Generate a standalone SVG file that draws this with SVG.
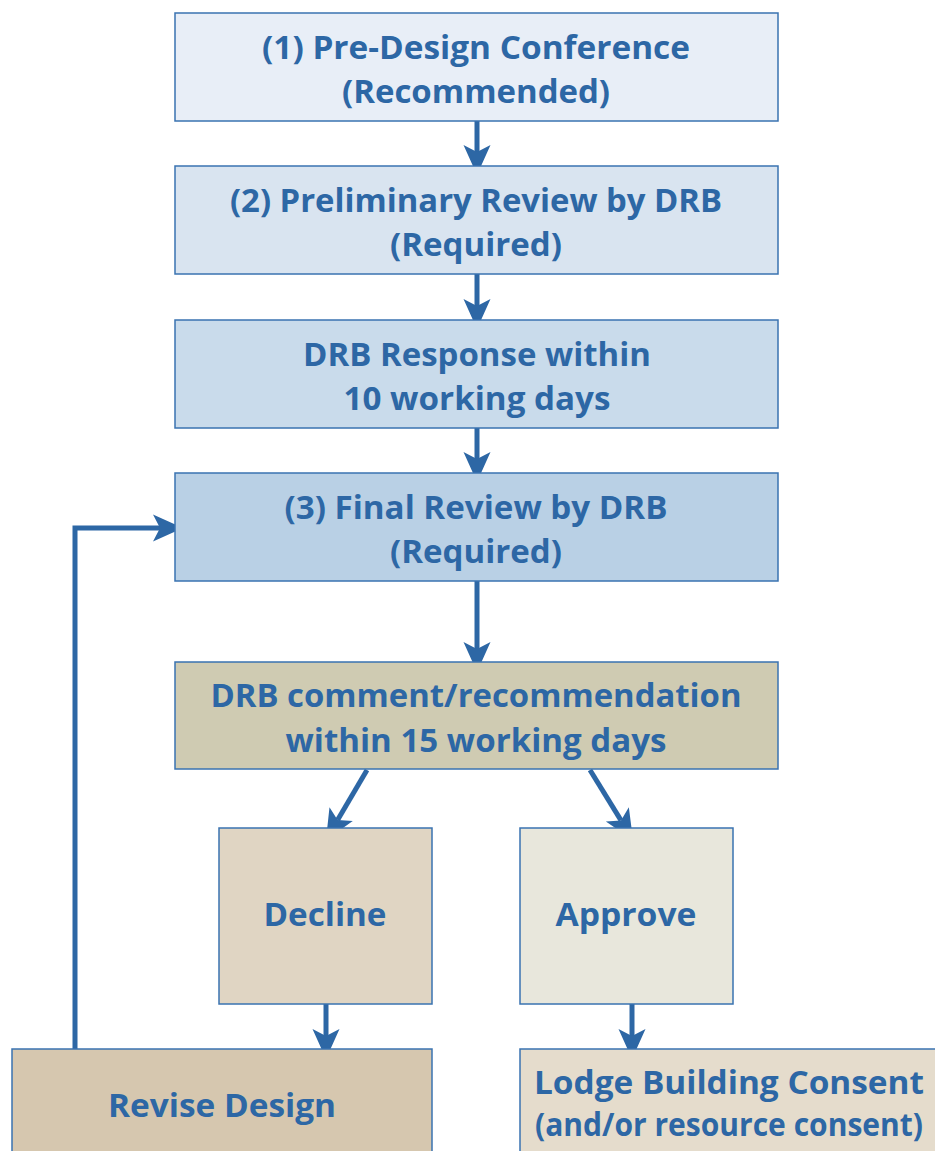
<svg xmlns="http://www.w3.org/2000/svg" width="935" height="1151" viewBox="0 0 935 1151">
<style>
.box{stroke:#3A73B1;stroke-width:1.5}
.t{font-family:"Open Sans","Noto Sans","Liberation Sans",sans-serif;font-weight:bold;font-size:33px;fill:#2D67A5;text-anchor:middle}
.c{fill:none;stroke:#2D67A5;stroke-width:5}
</style>
<defs>
<marker id="ah" markerUnits="userSpaceOnUse" markerWidth="31" markerHeight="28" viewBox="0 -14 31 28" refX="7" refY="0" orient="auto" overflow="visible">
<path d="M0,-13.5 L30,0 L0,13.5 L7,0 Z" fill="#2D67A5"/>
</marker>
</defs>
<rect width="935" height="1151" fill="#ffffff"/>
<g id="connectors">
<line class="c" x1="477" y1="121" x2="477" y2="152" marker-end="url(#ah)"/>
<line class="c" x1="477" y1="274" x2="477" y2="306" marker-end="url(#ah)"/>
<line class="c" x1="477" y1="428" x2="477" y2="459" marker-end="url(#ah)"/>
<line class="c" x1="477" y1="581" x2="477" y2="649" marker-end="url(#ah)"/>
<line class="c" x1="367" y1="770" x2="337.6" y2="820.1" marker-end="url(#ah)"/>
<line class="c" x1="590" y1="770" x2="621" y2="820.4" marker-end="url(#ah)"/>
<line class="c" x1="326" y1="1004" x2="326" y2="1036" marker-end="url(#ah)"/>
<line class="c" x1="632" y1="1004" x2="632" y2="1036" marker-end="url(#ah)"/>
<path class="c" d="M75,1049 V528 H160" marker-end="url(#ah)"/>
</g>
<g id="n1">
<rect class="box" x="175" y="13" width="603" height="108" fill="#E8EEF7"/>
<text class="t" x="476" y="59" textLength="428" lengthAdjust="spacingAndGlyphs">(1) Pre-Design Conference</text>
<text class="t" x="476" y="103" textLength="268" lengthAdjust="spacingAndGlyphs">(Recommended)</text>
</g>
<g id="n2">
<rect class="box" x="175" y="166" width="603" height="108" fill="#D9E4F0"/>
<text class="t" x="476" y="212" textLength="492" lengthAdjust="spacingAndGlyphs">(2) Preliminary Review by DRB</text>
<text class="t" x="476" y="256" textLength="172" lengthAdjust="spacingAndGlyphs">(Required)</text>
</g>
<g id="n3">
<rect class="box" x="175" y="320" width="603" height="108" fill="#C9DBEB"/>
<text class="t" x="477" y="366" textLength="348" lengthAdjust="spacingAndGlyphs">DRB Response within</text>
<text class="t" x="477" y="410" textLength="267" lengthAdjust="spacingAndGlyphs">10 working days</text>
</g>
<g id="n4">
<rect class="box" x="175" y="473" width="603" height="108" fill="#B9D0E5"/>
<text class="t" x="476" y="519" textLength="383" lengthAdjust="spacingAndGlyphs">(3) Final Review by DRB</text>
<text class="t" x="476" y="563" textLength="172" lengthAdjust="spacingAndGlyphs">(Required)</text>
</g>
<g id="n5">
<rect class="box" x="175" y="662" width="603" height="107" fill="#CFCBB2"/>
<text class="t" x="476" y="707" textLength="531" lengthAdjust="spacingAndGlyphs">DRB comment/recommendation</text>
<text class="t" x="476" y="752" textLength="381" lengthAdjust="spacingAndGlyphs">within 15 working days</text>
</g>
<g id="decline">
<rect class="box" x="219" y="828" width="213" height="176" fill="#E0D5C3"/>
<text class="t" x="325" y="926" textLength="123" lengthAdjust="spacingAndGlyphs">Decline</text>
</g>
<g id="approve">
<rect class="box" x="520" y="828" width="213" height="176" fill="#E8E7DC"/>
<text class="t" x="626" y="926" textLength="141" lengthAdjust="spacingAndGlyphs">Approve</text>
</g>
<g id="revise">
<rect class="box" x="12" y="1049" width="420" height="110" fill="#D6C7AF"/>
<text class="t" x="222" y="1117" textLength="228" lengthAdjust="spacingAndGlyphs">Revise Design</text>
</g>
<g id="lodge">
<rect class="box" x="520" y="1049" width="425" height="110" fill="#E5DCCC"/>
<text class="t" x="729" y="1094" textLength="390" lengthAdjust="spacingAndGlyphs">Lodge Building Consent</text>
<text class="t" x="729" y="1136" font-size="32" textLength="388" lengthAdjust="spacingAndGlyphs">(and/or resource consent)</text>
</g>
</svg>
